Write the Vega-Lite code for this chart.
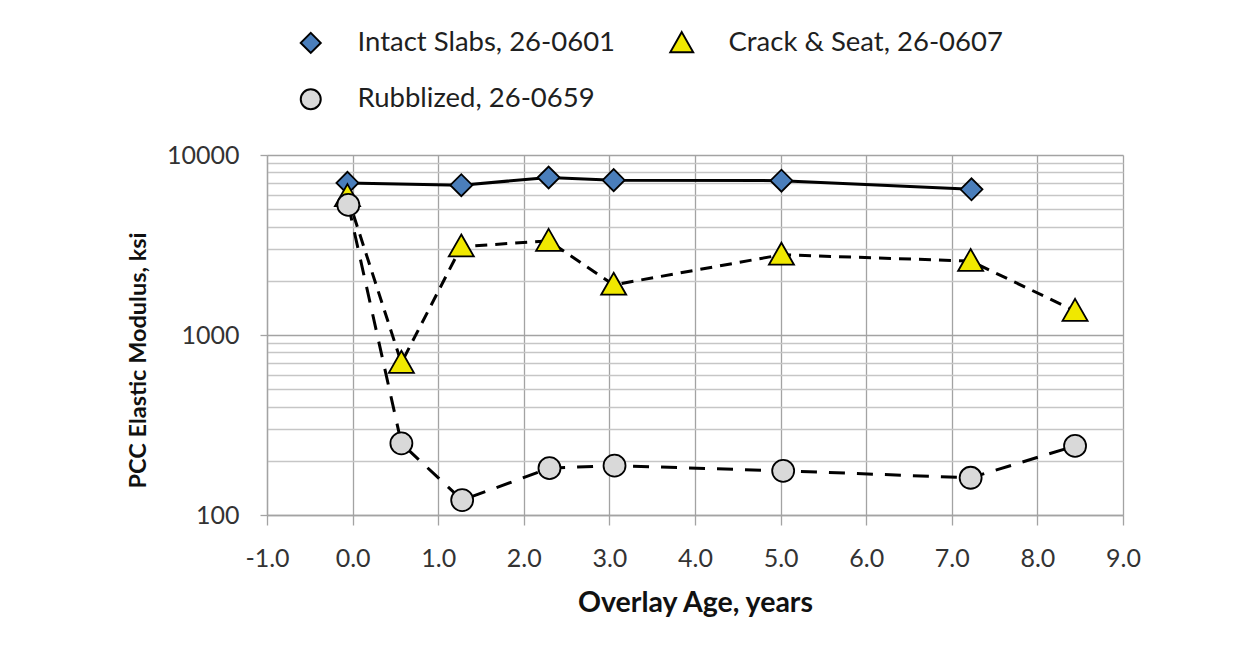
{
  "$schema": "https://vega.github.io/schema/vega-lite/v6.json",
  "width": 856,
  "height": 360,
  "autosize": "none",
  "padding": {"left": 267, "top": 155, "right": 127, "bottom": 134},
  "background": "white",
  "config": {"font": "Lato", "view": {"stroke": null}},
  "data": {
    "values": [
      {"series": "Intact Slabs, 26-0601", "age": -0.06, "modulus": 7000},
      {"series": "Intact Slabs, 26-0601", "age": 1.27, "modulus": 6800},
      {"series": "Intact Slabs, 26-0601", "age": 2.29, "modulus": 7500},
      {"series": "Intact Slabs, 26-0601", "age": 3.05, "modulus": 7250},
      {"series": "Intact Slabs, 26-0601", "age": 5.01, "modulus": 7200},
      {"series": "Intact Slabs, 26-0601", "age": 7.23, "modulus": 6450},
      {"series": "Crack & Seat, 26-0607", "age": -0.06, "modulus": 5900},
      {"series": "Crack & Seat, 26-0607", "age": 0.57, "modulus": 700},
      {"series": "Crack & Seat, 26-0607", "age": 1.27, "modulus": 3100},
      {"series": "Crack & Seat, 26-0607", "age": 2.29, "modulus": 3330},
      {"series": "Crack & Seat, 26-0607", "age": 3.05, "modulus": 1900},
      {"series": "Crack & Seat, 26-0607", "age": 5.01, "modulus": 2790},
      {"series": "Crack & Seat, 26-0607", "age": 7.22, "modulus": 2575},
      {"series": "Crack & Seat, 26-0607", "age": 8.44, "modulus": 1360},
      {"series": "Rubblized, 26-0659", "age": -0.05, "modulus": 5280},
      {"series": "Rubblized, 26-0659", "age": 0.57, "modulus": 250},
      {"series": "Rubblized, 26-0659", "age": 1.28, "modulus": 121},
      {"series": "Rubblized, 26-0659", "age": 2.3, "modulus": 182},
      {"series": "Rubblized, 26-0659", "age": 3.06, "modulus": 188},
      {"series": "Rubblized, 26-0659", "age": 5.03, "modulus": 176},
      {"series": "Rubblized, 26-0659", "age": 7.22, "modulus": 161},
      {"series": "Rubblized, 26-0659", "age": 8.44, "modulus": 242}
    ]
  },
  "encoding": {
    "x": {
      "field": "age", "type": "quantitative", "title": "Overlay Age, years",
      "scale": {"domain": [-1, 9], "nice": false, "zero": false},
      "axis": {
        "values": [-1, 0, 1, 2, 3, 4, 5, 6, 7, 8, 9],
        "labelExpr": "(datum.value < 0 ? '-' : '') + format(abs(datum.value), '.1f')",
        "labelFont": "Lato", "labelFontSize": 25, "labelColor": "#333333",
        "labelPadding": 21, "labelFlush": false, "labelOverlap": false,
        "tickSize": 10, "tickColor": "#a3a3a3", "tickWidth": 1.3,
        "grid": true, "gridColor": "#a3a3a3", "gridWidth": 1.3,
        "domainColor": "#a3a3a3", "domainWidth": 1.3,
        "titleFont": "Lato", "titleFontSize": 28.5, "titleFontWeight": "bold", "titleColor": "#111111",
        "titleBaseline": "alphabetic", "titleY": 96
      }
    },
    "y": {
      "field": "modulus", "type": "quantitative", "title": "PCC Elastic Modulus, ksi",
      "scale": {"type": "log", "domain": [100, 10000], "nice": false},
      "axis": {
        "values": [100, 200, 300, 400, 500, 600, 700, 800, 900, 1000, 2000, 3000, 4000, 5000, 6000, 7000, 8000, 9000, 10000],
        "format": "d",
        "labelExpr": "datum.value == 100 || datum.value == 1000 || datum.value == 10000 ? datum.label : ''",
        "labelFont": "Lato", "labelFontSize": 25, "labelColor": "#333333",
        "labelPadding": 21, "labelOverlap": false, "labelBaseline": "middle",
        "tickSize": 7, "tickWidth": 1.3,
        "tickColor": {"condition": {"test": "datum.value == 100 || datum.value == 1000 || datum.value == 10000", "value": "#a3a3a3"}, "value": "transparent"},
        "grid": true, "gridWidth": 1.3,
        "gridColor": {"condition": {"test": "datum.value == 100 || datum.value == 1000 || datum.value == 10000", "value": "#a3a3a3"}, "value": "#c6c6c6"},
        "domainColor": "#a3a3a3", "domainWidth": 1.3,
        "titleFont": "Lato", "titleFontSize": 23.5, "titleFontWeight": "bold", "titleColor": "#111111",
        "titleBaseline": "alphabetic", "titleX": -122, "titleY": 205, "titleAlign": "center", "titleAngle": -90
      }
    }
  },
  "layer": [
    {
      "transform": [{"filter": "datum.series === 'Intact Slabs, 26-0601'"}],
      "mark": {"type": "line", "color": "black", "strokeWidth": 3}
    },
    {
      "transform": [{"filter": "datum.series === 'Crack & Seat, 26-0607'"}],
      "mark": {"type": "line", "color": "black", "strokeWidth": 3, "strokeDash": [12, 8]}
    },
    {
      "transform": [{"filter": "datum.series === 'Rubblized, 26-0659'"}],
      "mark": {"type": "line", "color": "black", "strokeWidth": 3, "strokeDash": [16, 12]}
    },
    {
      "mark": {"type": "point", "filled": true, "stroke": "black", "strokeWidth": 1.8, "opacity": 1, "size": 484},
      "encoding": {
        "shape": {
          "field": "series", "type": "nominal",
          "scale": {"domain": ["Intact Slabs, 26-0601", "Crack & Seat, 26-0607", "Rubblized, 26-0659"], "range": ["diamond", "M0,-1.1L1.14,0.9L-1.14,0.9Z", "circle"]},
          "legend": {
            "title": null, "orient": "none", "legendX": 30, "legendY": -126, "columns": 2, "direction": "horizontal",
            "symbolSize": 400, "symbolStrokeColor": "black", "symbolStrokeWidth": 2, "symbolOpacity": 1,
            "labelFont": "Lato", "labelFontSize": 27.5, "labelColor": "#1f1f1f", "labelOffset": 33, "labelLimit": 500,
            "columnPadding": 50, "rowPadding": 27.5,
            "encode": {"symbols": {"update": {"shape": {"signal": "datum.value"}}}}
          }
        },
        "fill": {
          "field": "series", "type": "nominal",
          "scale": {"domain": ["Intact Slabs, 26-0601", "Crack & Seat, 26-0607", "Rubblized, 26-0659"], "range": ["#4A7EBB", "#F0E800", "#D9D9D9"]},
          "legend": {
            "title": null, "orient": "none", "legendX": 30, "legendY": -126, "columns": 2, "direction": "horizontal",
            "symbolSize": 400, "symbolStrokeColor": "black", "symbolStrokeWidth": 2, "symbolOpacity": 1,
            "labelFont": "Lato", "labelFontSize": 27.5, "labelColor": "#1f1f1f", "labelOffset": 33, "labelLimit": 500,
            "columnPadding": 50, "rowPadding": 27.5,
            "encode": {"symbols": {"update": {"shape": {"signal": "datum.value"}}}}
          }
        }
      }
    }
  ]
}
